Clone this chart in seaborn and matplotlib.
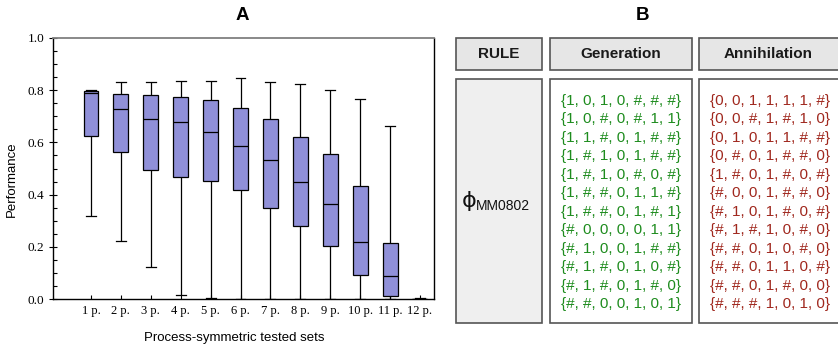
import pandas as pd
import seaborn as sns
import matplotlib.pyplot as plt
from matplotlib.patches import Rectangle
from matplotlib.ticker import MultipleLocator

# panel A: five-number summaries
sets = ["1 p.", "2 p.", "3 p.", "4 p.", "5 p.", "6 p.", "7 p.", "8 p.", "9 p.", "10 p.", "11 p.", "12 p."]
lower = [0.320, 0.224, 0.125, 0.016, 0.005, 0.003, 0.000, 0.000, 0.000, 0.000, 0.002, 0.000]
q1 = [0.623, 0.562, 0.495, 0.467, 0.451, 0.417, 0.350, 0.280, 0.203, 0.093, 0.013, 0.001]
median = [0.787, 0.726, 0.688, 0.677, 0.638, 0.585, 0.534, 0.447, 0.363, 0.220, 0.089, 0.002]
q3 = [0.796, 0.785, 0.781, 0.773, 0.763, 0.732, 0.689, 0.620, 0.554, 0.434, 0.215, 0.003]
upper = [0.801, 0.832, 0.831, 0.836, 0.836, 0.847, 0.832, 0.823, 0.799, 0.765, 0.664, 0.004]

# panel B: rule table
rule_name = "MM0802"
generation = [
    "{1, 0, 1, 0, #, #, #}", "{1, 0, #, 0, #, 1, 1}", "{1, 1, #, 0, 1, #, #}",
    "{1, #, 1, 0, 1, #, #}", "{1, #, 1, 0, #, 0, #}", "{1, #, #, 0, 1, 1, #}",
    "{1, #, #, 0, 1, #, 1}", "{#, 0, 0, 0, 0, 1, 1}", "{#, 1, 0, 0, 1, #, #}",
    "{#, 1, #, 0, 1, 0, #}", "{#, 1, #, 0, 1, #, 0}", "{#, #, 0, 0, 1, 0, 1}",
]
annihilation = [
    "{0, 0, 1, 1, 1, 1, #}", "{0, 0, #, 1, #, 1, 0}", "{0, 1, 0, 1, 1, #, #}",
    "{0, #, 0, 1, #, #, 0}", "{1, #, 0, 1, #, 0, #}", "{#, 0, 0, 1, #, #, 0}",
    "{#, 1, 0, 1, #, 0, #}", "{#, 1, #, 1, 0, #, 0}", "{#, #, 0, 1, 0, #, 0}",
    "{#, #, 0, 1, 1, 0, #}", "{#, #, 0, 1, #, 0, 0}", "{#, #, #, 1, 0, 1, 0}",
]

# long table: each group holds its five summary values, so the
# quartiles seaborn computes are exactly the ones read off
rows = []
for i, s in enumerate(sets):
    for v in (lower[i], q1[i], median[i], q3[i], upper[i]):
        rows.append({"set": s, "perf": v})
df = pd.DataFrame(rows)

plt.rcParams["font.family"] = ["Liberation Sans", "DejaVu Sans"]
W, H = 838, 351
fig = plt.figure(figsize=(W / 100, H / 100), dpi=100)

# ---- panel A
ax = fig.add_axes([53.3 / W, 1 - 299.3 / H, (434 - 53.3) / W, (299.3 - 37.7) / H])
sns.boxplot(data=df, x="set", y="perf", order=sets, whis=(0, 100), width=0.5,
            color="#9090D8", saturation=1, linecolor="black", linewidth=0.9,
            capwidths=0.33, ax=ax)
ax.set_xlim(-1.26, 11.47)
ax.set_ylim(0, 1.0)
ax.set_xlabel("")
ax.set_ylabel("")
ax.yaxis.set_major_locator(MultipleLocator(0.2))
ax.yaxis.set_minor_locator(MultipleLocator(0.05))
ax.tick_params(axis="y", which="major", direction="inout", length=6, width=0.8, labelsize=9.5)
ax.tick_params(axis="y", which="minor", direction="in", length=3, width=0.8)
ax.tick_params(axis="x", direction="in", length=3, width=0.8, labelsize=9, pad=4)
for lab in ax.get_xticklabels():
    lab.set_family("Liberation Serif")
ax.set_yticks([0, 0.2, 0.4, 0.6, 0.8, 1.0])
ax.set_yticklabels(["0.0", "0.2", "0.4", "0.6", "0.8", "1.0"], family="Liberation Serif")
for side in ["left", "bottom", "right"]:
    ax.spines[side].set_color("black")
    ax.spines[side].set_linewidth(1.0)
ax.spines["top"].set_color("#808080")
ax.spines["top"].set_linewidth(1.3)

fig.text(242 / W, 1 - 15 / H, "A", ha="center", va="center", fontsize=13.5, fontweight="bold")
fig.text(234.5 / W, 1 - 338 / H, "Process-symmetric tested sets", ha="center", va="center", fontsize=9.5)
fig.text(12 / W, 1 - 179 / H, "Performance", ha="center", va="center", rotation=90, fontsize=9.5)

# ---- panel B
bx = fig.add_axes([0, 0, 1, 1])
bx.set_xlim(0, W)
bx.set_ylim(H, 0)
bx.axis("off")
bx.patch.set_visible(False)

fig.text(642 / W, 1 - 15 / H, "B", ha="center", va="center", fontsize=13.5, fontweight="bold")

cols = [(455.7, 542.3), (550, 692.3), (699, 846)]
centers = [499, 621, 768]
edge = "#555555"
for (x0, x1), cx, name in zip(cols, centers, ["RULE", "Generation", "Annihilation"]):
    bx.add_patch(Rectangle((x0, 37.7), x1 - x0, 70 - 37.7, facecolor="#E6E6E6",
                           edgecolor=edge, linewidth=1.2))
    bx.text(cx, 54.5, name, ha="center", va="center", fontsize=11,
            fontweight="bold", color="#1a1a1a")
for (x0, x1), fc in zip(cols, ["#EFEFEF", "white", "white"]):
    bx.add_patch(Rectangle((x0, 79), x1 - x0, 322.7 - 79, facecolor=fc,
                           edgecolor=edge, linewidth=1.2))

bx.text(461.5, 201, "\u03d5", family="DejaVu Sans", ha="left", va="center", fontsize=16, color="#111111")
bx.text(475.5, 206, rule_name, ha="left", va="center", fontsize=10, color="#111111")

for i, (g, a) in enumerate(zip(generation, annihilation)):
    y = 101 + i * 18.48
    bx.text(621, y, g, ha="center", va="center", fontsize=11, color="#1E8C1E")
    bx.text(769.5, y, a, ha="center", va="center", fontsize=11, color="#A0281E")

fig.savefig("out.png", dpi=100)
